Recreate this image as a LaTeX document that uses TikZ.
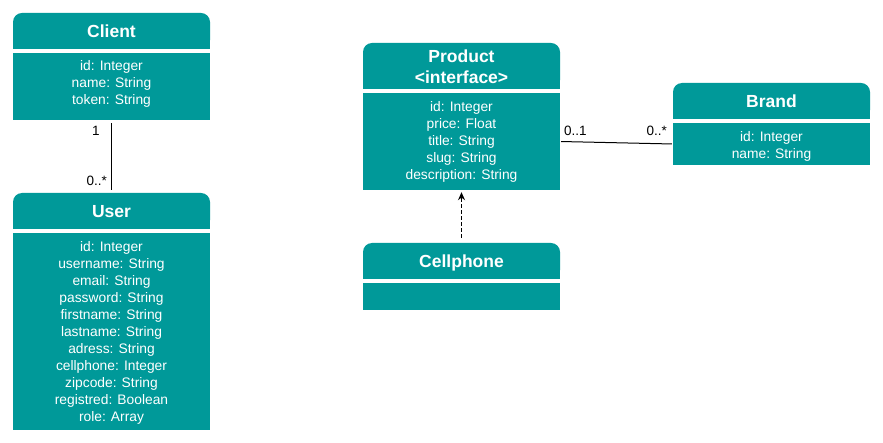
\documentclass[tikz,border=0pt]{standalone}
\usepackage{fontspec}
\setmainfont{Liberation Sans}
\usetikzlibrary{positioning,calc,arrows.meta,shapes,backgrounds}
\definecolor{umlteal}{HTML}{009999}
\newcommand\attrlist[1]{\begin{tabular}[t]{@{}c@{}}#1\end{tabular}}
\tikzset{
  classhead/.style={fill=umlteal,text=white,align=center,inner sep=0pt,
    font=\bfseries\fontsize{17.5}{21}\selectfont,minimum width=197pt,rounded corners=9pt,
    text height=14pt,text depth=0pt},
  classbody/.style={fill=umlteal,text=white,inner sep=0pt,
    font=\fontsize{13.8}{17}\selectfont,minimum width=197pt,text height=0pt},
  mult/.style={font=\fontsize{13.5}{16}\selectfont,inner sep=0pt},
  assoc/.style={line width=1pt,shorten <=3pt,shorten >=3pt}
}

\begin{document}
\begin{tikzpicture}[x=1pt,y=-1pt,>={Stealth[length=8pt,width=7pt]}]
    \useasboundingbox (0,0) rectangle (883,443);
    % classes
    \node at (111.5, 31) [classhead, minimum height=36pt] (ClientHead) {Client};
    \node at (111.5, 86.5) [classbody, minimum height=67pt, text depth=31pt] (ClientBody) {\attrlist{id: Integer\\name: String\\token: String}};
    \node at (111.5, 211) [classhead, minimum height=36pt] (UserHead) {User};
    \node at (111.5, 331.5) [classbody, minimum height=197pt, text depth=160pt] (UserBody) {\attrlist{id: Integer\\username: String\\email: String\\password: String\\firstname: String\\lastname: String\\adress: String\\cellphone: Integer\\zipcode: String\\registred: Boolean\\role: Array}};
    \node at (461.5, 66) [classhead, minimum height=46pt, text height=0pt, text depth=6pt] (ProductHead) {\attrlist{Product\\<interface>}};
    \node at (461.5, 141.5) [classbody, minimum height=97pt, text depth=59.6pt] (ProductBody) {\attrlist{id: Integer\\price: Float\\title: String\\slug: String\\description: String}};
    \node at (461.5, 261) [classhead, minimum height=36pt] (CellphoneHead) {Cellphone};
    \node at (461.5, 296.5) [classbody, minimum height=27pt, text depth=0pt] (CellphoneBody) {};
    \node at (771.5, 101) [classhead, minimum height=36pt] (BrandHead) {Brand};
    \node at (771.5, 144) [classbody, minimum height=42pt, text depth=4.6pt] (BrandBody) {\attrlist{id: Integer\\name: String}};

    % square off the lower corners of the headers
    \begin{scope}[on background layer]
      \foreach \h in {ClientHead,UserHead,ProductHead,CellphoneHead,BrandHead}
        \fill[umlteal] (\h.west) rectangle (\h.south east);
    \end{scope}

    % relations
    \draw[assoc] (ClientBody.south -| 111,0) -- (UserHead.north -| 111,0);
    \draw[assoc, shorten <=1pt, shorten >=1pt] (ProductBody.east) -- (BrandBody.west);
    \draw[->, line width=1pt, dash pattern=on 3.5pt off 2.5pt, shorten <=5pt, shorten >=2pt] (CellphoneHead.north) -- (ProductBody.south);

    % multiplicities
    \node at (96, 131) [mult] (ClientOne) {1};
    \node at (107, 181) [mult, anchor=east] (UserMany) {0..*};
    \node at (564, 131) [mult, anchor=west] (ProductOne) {0..1};
    \node at (667, 131) [mult, anchor=east] (BrandMany) {0..*};
\end{tikzpicture}
\end{document}
